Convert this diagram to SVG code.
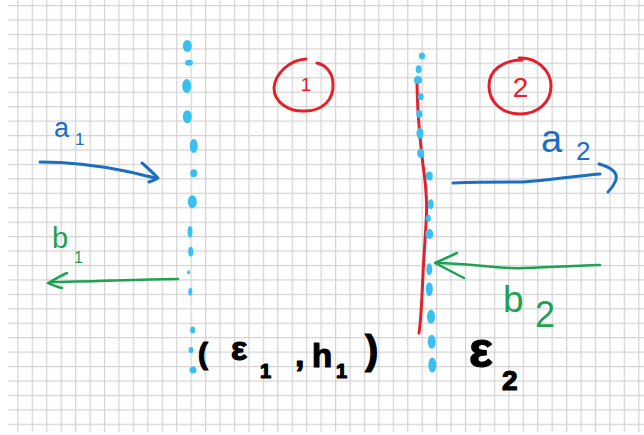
<svg xmlns="http://www.w3.org/2000/svg" width="644" height="435" viewBox="0 0 644 435">
<defs>
<pattern id="grid" patternUnits="userSpaceOnUse" x="17.3" y="5" width="14.44" height="14.44">
<rect x="0" y="0" width="1.2" height="14.44" fill="#d3d3d3"/>
<rect x="0" y="0" width="14.44" height="1.2" fill="#d3d3d3"/>
</pattern>
</defs>
<style>
.dot{fill:#38c0f2}
.red{fill:none;stroke:#e3202b;stroke-width:3;stroke-linecap:round;stroke-linejoin:round}
.blue{fill:none;stroke:#1b6ec2;stroke-width:3;stroke-linecap:round;stroke-linejoin:round}
.green{fill:none;stroke:#1fa152;stroke-width:2.5;stroke-linecap:round;stroke-linejoin:round}
.t{font-family:"Liberation Sans",Arial,sans-serif}
.tb{font-family:"Liberation Sans",Arial,sans-serif;font-weight:bold;fill:#000;stroke:#000;stroke-width:1.2;stroke-linejoin:round}
</style>
<rect x="0" y="0" width="644" height="435" fill="#ffffff"/>
<rect x="8" y="0" width="636" height="432" fill="url(#grid)"/>

<g id="interface1">
<ellipse class="dot" cx="187.3" cy="46" rx="4.5" ry="6"/>
<ellipse class="dot" cx="189" cy="62.7" rx="4" ry="3"/>
<ellipse class="dot" cx="186.7" cy="86" rx="4.5" ry="7"/>
<ellipse class="dot" cx="187.3" cy="116.7" rx="4.5" ry="6.5"/>
<ellipse class="dot" cx="193.7" cy="146" rx="4" ry="7"/>
<ellipse class="dot" cx="193.7" cy="173.3" rx="3.5" ry="4"/>
<ellipse class="dot" cx="192.3" cy="201.7" rx="4.5" ry="6.5"/>
<ellipse class="dot" cx="190" cy="231.7" rx="2.5" ry="6"/>
<ellipse class="dot" cx="190.7" cy="251.7" rx="2.5" ry="5"/>
<ellipse class="dot" cx="188.7" cy="272.3" rx="1.5" ry="2"/>
<ellipse class="dot" cx="190.3" cy="291.7" rx="2" ry="4"/>
<ellipse class="dot" cx="192.7" cy="330" rx="2.5" ry="3.5"/>
<ellipse class="dot" cx="191" cy="350" rx="2.5" ry="3"/>
<ellipse class="dot" cx="193" cy="370" rx="3.5" ry="3.5"/>
</g>

<g id="interface2">
<path class="red" d="M417,78 C417,110 420,140 423,165 C426,185 427,200 426.5,215 C425.5,235 423.5,260 422.5,285 C421.5,305 421,320 419,333"/>
<ellipse class="dot" cx="422" cy="56" rx="3" ry="3.5"/>
<ellipse class="dot" cx="418.7" cy="69.3" rx="3" ry="4"/>
<ellipse class="dot" cx="418" cy="80" rx="4" ry="4"/>
<ellipse class="dot" cx="420.7" cy="96.7" rx="3" ry="3.5"/>
<ellipse class="dot" cx="419.3" cy="114" rx="3" ry="4"/>
<ellipse class="dot" cx="420" cy="133.3" rx="3.5" ry="5.5"/>
<ellipse class="dot" cx="420.7" cy="153.3" rx="3.5" ry="4.5"/>
<ellipse class="dot" cx="429.3" cy="176" rx="3.5" ry="4.5"/>
<ellipse class="dot" cx="430.7" cy="204.3" rx="3" ry="5"/>
<ellipse class="dot" cx="428.3" cy="218.3" rx="2.5" ry="3.5"/>
<ellipse class="dot" cx="429.3" cy="234" rx="4" ry="5"/>
<ellipse class="dot" cx="429.3" cy="269.3" rx="3" ry="6"/>
<ellipse class="dot" cx="429.3" cy="289.3" rx="3.5" ry="7"/>
<ellipse class="dot" cx="431" cy="316.7" rx="4" ry="7"/>
<ellipse class="dot" cx="431.7" cy="341.7" rx="4" ry="7"/>
<ellipse class="dot" cx="432.3" cy="365" rx="4" ry="7.5"/>
</g>

<g id="region1">
<path class="red" d="M306,59 C290,60 275,73 274,88 C274,103 290,112 305,111 C322,111 334,100 333,84 C333,73 326,65 317,63"/>
<text class="t" x="306" y="91" font-size="19" fill="#e3202b" text-anchor="middle">1</text>
</g>

<g id="region2">
<path class="red" d="M519,58 C536,57 551,70 551,86 C551,103 537,114 520,114 C502,114 489,102 489,86 C489,70 503,60 522,60"/>
<text class="t" x="520.5" y="97" font-size="28" fill="#e3202b" text-anchor="middle">2</text>
</g>

<g id="label-a1">
<text class="t" x="54" y="137" font-size="27" fill="#1b6ec2">a<tspan x="75" y="145" font-size="17">1</tspan></text>
</g>
<g id="label-b1">
<text class="t" x="52" y="248" font-size="29" fill="#1fa152">b<tspan x="74" y="263" font-size="16">1</tspan></text>
</g>
<g id="label-a2">
<text class="t" x="541" y="152" font-size="38" fill="#1b6ec2">a<tspan x="576" y="160" font-size="26">2</tspan></text>
</g>
<g id="label-b2">
<text class="t" x="503" y="312" font-size="37" fill="#1fa152">b<tspan x="535" y="327" font-size="36">2</tspan></text>
</g>

<g id="medium1">
<text class="tb" font-size="30"><tspan x="198" y="364">(</tspan><tspan x="231" y="360" font-size="34">ε</tspan><tspan x="260" y="378" font-size="20">1</tspan><tspan x="295" y="366" font-size="34">,</tspan><tspan x="312" y="367" font-size="33">h</tspan><tspan x="336" y="378" font-size="20">1</tspan><tspan x="365" y="364" font-size="40">)</tspan></text>
</g>

<g id="medium2">
<text class="tb" x="469" y="367" font-size="50">ε<tspan x="502" y="390" font-size="28">2</tspan></text>
</g>

<g id="connectors">
<g id="arrow-a1">
<path class="blue" d="M40,162 C70,162 100,166 125,171 C140,174 148,177 157,178"/>
<path class="blue" d="M142,163 C148,168 153,173 158,178 C155,180 152,181 149,182"/>
</g>
<g id="arrow-b1">
<path class="green" d="M178,279 C150,279 110,281 52,282"/>
<path class="green" d="M67,273 C60,276 54,280 48,283 C53,285 57,287 62,288"/>
</g>
<g id="arrow-a2">
<path class="blue" d="M453,183 C480,182 505,182 523,182 C550,180 575,176 600,174"/>
<path class="blue" d="M599,164 C610,167 618,172 616,180 C614,185 611,189 608,192"/>
</g>
<g id="arrow-b2">
<path class="green" d="M600,265 C560,266 530,269 510,268 C480,266 460,263 436,263"/>
<path class="green" d="M457,253 L435,263 L464,278"/>
</g>
</g>
</svg>
